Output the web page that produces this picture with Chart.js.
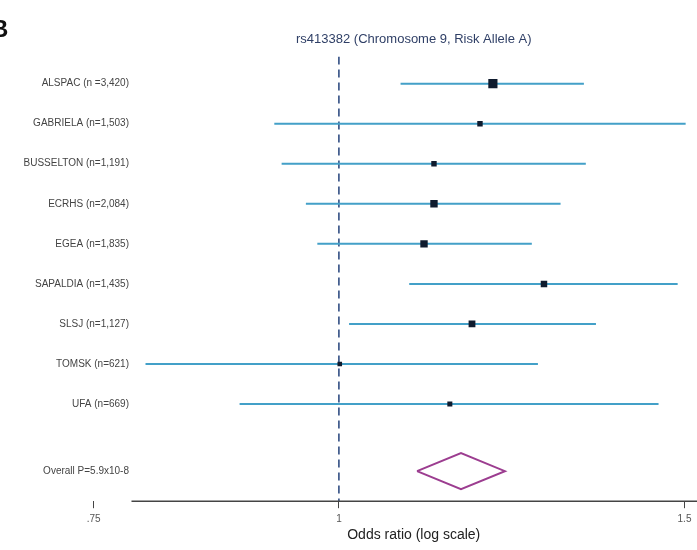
<!DOCTYPE html>
<html>
<head>
<meta charset="utf-8">
<script src="https://cdn.jsdelivr.net/npm/chart.js@4"></script>
<style>
  html, body { margin: 0; padding: 0; background: #fff; overflow: hidden; }
  canvas { display: block; }
</style>
</head>
<body>
<canvas id="forestChart" width="746" height="550"></canvas>
<script>
// study rows, top to bottom
var studies = ["ALSPAC (n =3,420)", "GABRIELA (n=1,503)", "BUSSELTON (n=1,191)", "ECRHS (n=2,084)",
    "EGEA (n=1,835)", "SAPALDIA (n=1,435)", "SLSJ (n=1,127)", "TOMSK (n=621)", "UFA (n=669)"];
var oddsRatio = [1.198, 1.180, 1.118, 1.118, 1.105, 1.272, 1.169, 1.001, 1.139];
var ciLow = [1.075, 0.927, 0.935, 0.962, 0.975, 1.086, 1.012, 0.797, 0.890];
var ciHigh = [1.333, 1.502, 1.336, 1.297, 1.254, 1.488, 1.352, 1.263, 1.455];
var weights = [20, 7, 7, 13, 13, 10, 11, 5, 6];

var overallLabel = "Overall P=5.9x10-8";
var overall = { est: 1.154, low: 1.096, high: 1.215 };

var tickValues = [0.75, 1, 1.5];
var tickLabels = [".75", "1", "1.5"];

document.addEventListener("DOMContentLoaded", function () {
    var canvas = document.getElementById("forestChart");
    var ctx = canvas.getContext("2d");
    var font = "'Liberation Sans', Arial, Helvetica, sans-serif";

    var overallRow = studies.length + 1.675;
    var yTop = 0.325, yBottom = 11.425;

    // CI segments separated by gaps
    var ciData = [];
    studies.forEach(function (s, i) {
        ciData.push({ x: ciLow[i], y: i + 1 });
        ciData.push({ x: ciHigh[i], y: i + 1 });
        ciData.push({ x: NaN, y: NaN });
    });

    var pointData = oddsRatio.map(function (v, i) { return { x: v, y: i + 1 }; });
    var diamond = [
        { x: overall.low, y: overallRow },
        { x: overall.est, y: overallRow - 0.45 },
        { x: overall.high, y: overallRow },
        { x: overall.est, y: overallRow + 0.45 },
        { x: overall.low, y: overallRow }
    ];

    var labelsPlugin = {
        id: "rowLabels",
        afterDraw: function (chart) {
            var c = chart.ctx;
            var ys = chart.scales.y, xs = chart.scales.x;
            c.save();
            // x axis line (starts right of the .75 tick, as in the original)
            c.strokeStyle = "#444";
            c.lineWidth = 1.5;
            c.beginPath();
            c.moveTo(xs.getPixelForValue(0.784), chart.chartArea.bottom);
            c.lineTo(chart.chartArea.right, chart.chartArea.bottom);
            c.stroke();

            c.fillStyle = "#444";
            c.font = "10px " + font;
            c.textAlign = "right";
            c.textBaseline = "middle";
            studies.forEach(function (s, i) {
                c.fillText(s, 129, ys.getPixelForValue(i + 1));
            });
            c.fillText(overallLabel, 129, ys.getPixelForValue(overallRow));

            c.fillStyle = "#111";
            c.font = "bold 24px " + font;
            c.textAlign = "left";
            c.fillText("B", -9, 30);
            c.restore();
        }
    };

    new Chart(ctx, {
        type: "scatter",
        data: {
            datasets: [{
                label: "OR",
                data: pointData,
                pointStyle: "rect",
                pointRadius: weights.map(function (w) { return Math.sqrt(w) * 1.45; }),
                backgroundColor: "#0f1b2e",
                borderColor: "#0f1b2e",
                borderWidth: 0
            }, {
                label: "Overall",
                data: diamond,
                showLine: true,
                borderColor: "#9c3d90",
                borderWidth: 2,
                pointRadius: 0
            }, {
                label: "CI",
                data: ciData,
                showLine: true,
                spanGaps: false,
                borderColor: "#43a0c8",
                borderWidth: 2,
                pointRadius: 0
            }, {
                label: "ref",
                data: [{ x: 1, y: yTop }, { x: 1, y: yBottom }],
                showLine: true,
                borderColor: "#22407a",
                borderWidth: 1.5,
                borderDash: [8, 5],
                pointRadius: 0
            }]
        },
        options: {
            responsive: false,
            animation: false,
            layout: { padding: { top: 32, left: 88, right: 0, bottom: 3 } },
            plugins: {
                legend: { display: false },
                tooltip: { enabled: false },
                title: {
                    display: true,
                    fullSize: false,
                    text: "rs413382 (Chromosome 9, Risk Allele A)",
                    color: "#2f3f66",
                    font: { family: font, size: 13, weight: "normal", lineHeight: 1.2 },
                    padding: { top: 0, bottom: 9 }
                }
            },
            scales: {
                x: {
                    type: "logarithmic",
                    min: 0.745,
                    max: 1.6,
                    afterBuildTicks: function (axis) {
                        axis.ticks = tickValues.map(function (v) { return { value: v }; });
                    },
                    ticks: {
                        autoSkip: false,
                        maxRotation: 0,
                        padding: 5,
                        color: "#555",
                        font: { family: font, size: 10 },
                        callback: function (value) {
                            var i = tickValues.indexOf(value);
                            return i >= 0 ? tickLabels[i] : "";
                        }
                    },
                    grid: {
                        drawOnChartArea: false,
                        drawTicks: true,
                        tickLength: 7,
                        color: "#444"
                    },
                    border: { display: false },
                    title: {
                        display: true,
                        text: "Odds ratio (log scale)",
                        color: "#222",
                        font: { family: font, size: 14 },
                        padding: { top: -3, bottom: 3 }
                    }
                },
                y: {
                    display: false,
                    reverse: true,
                    min: yTop,
                    max: yBottom
                }
            }
        },
        plugins: [labelsPlugin]
    });
});
</script>
</body>
</html>
